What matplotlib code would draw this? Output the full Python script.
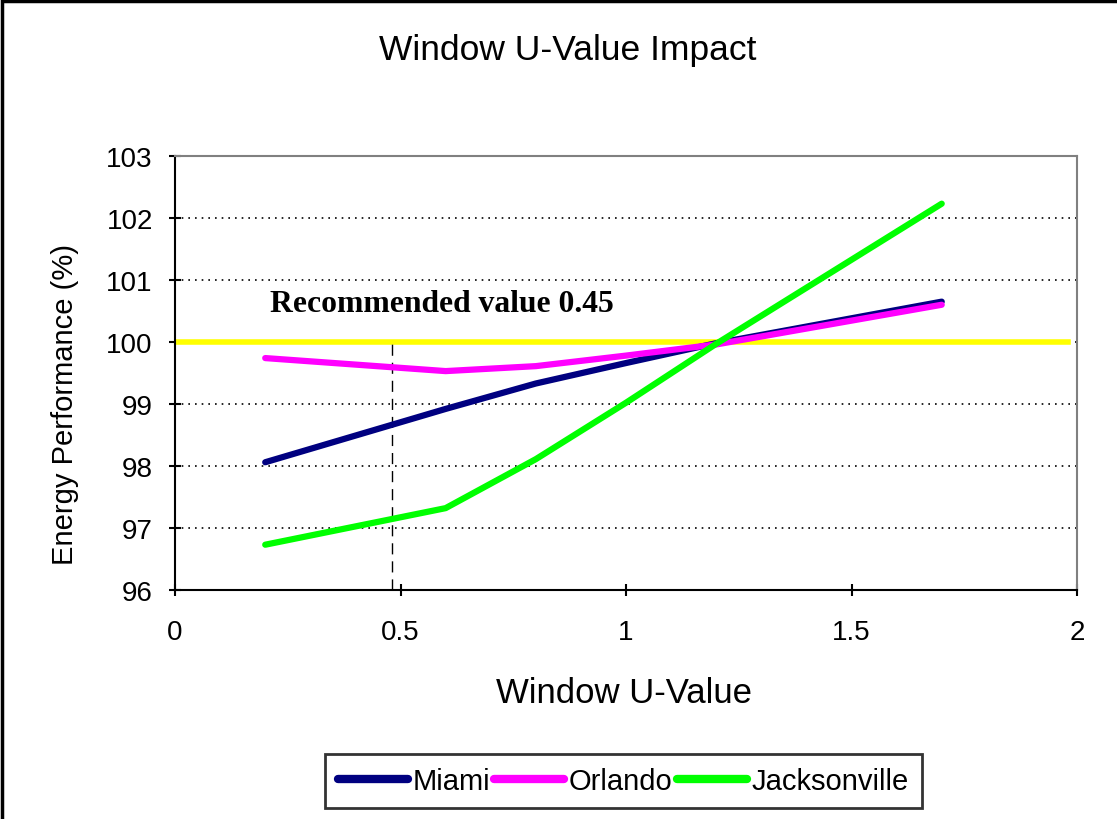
import matplotlib.pyplot as plt
from matplotlib.patches import Rectangle

u_values = [0.2, 0.6, 0.8, 1.0, 1.2, 1.7]
miami = [98.06, 98.92, 99.33, 99.66, 99.98, 100.65]
orlando = [99.74, 99.53, 99.61, 99.78, 99.96, 100.6]
jacksonville = [96.73, 97.32, 98.11, 99.02, 99.97, 102.23]

recommended_u = 0.48
target = 100

plt.rcParams["font.family"] = ["Liberation Sans", "DejaVu Sans"]

fig = plt.figure(figsize=(11.17, 8.2), dpi=100)
ax = fig.add_axes([0.1567, 0.2793, 0.8075, 0.5293])

# outer chart frame
fig.patches.append(Rectangle((0.002, -0.01), 1.05, 1.0075, transform=fig.transFigure,
                             fill=False, edgecolor="black", linewidth=2.5))

ax.plot(u_values, miami, color="#000080", lw=4.5, solid_capstyle="round", label="Miami", zorder=3)
ax.plot(u_values, orlando, color="#ff00ff", lw=4.5, solid_capstyle="round", label="Orlando", zorder=3)
ax.plot(u_values, jacksonville, color="#00ff00", lw=4.5, solid_capstyle="round", label="Jacksonville", zorder=3)

ax.plot([0, 1.98], [target, target], color="#ffff00", lw=4, zorder=2)
ax.plot([recommended_u, recommended_u], [96, target], color="black", lw=1, ls=(0, (8, 5)), zorder=2)
ax.text(0.21, 100.62, "Recommended value 0.45", family="Liberation Serif", fontweight="bold",
        fontsize=22.8, ha="left", va="center")

ax.set_xlim(0, 2)
ax.set_ylim(96, 103)
ax.set_xticks([0, 0.5, 1, 1.5, 2])
ax.set_xticklabels(["0", "0.5", "1", "1.5", "2"])
ax.set_yticks(range(96, 104))
ax.yaxis.grid(True, color="black", ls=(0, (1, 3)), lw=1.2)
for side in ["top", "right"]:
    ax.spines[side].set_color("#808080")
    ax.spines[side].set_linewidth(1.5)
for side in ["left", "bottom"]:
    ax.spines[side].set_color("black")
    ax.spines[side].set_linewidth(1.5)
ax.tick_params(labelsize=20, colors="black", direction="inout", length=8, width=1.5)
ax.tick_params(axis="x", pad=17)
ax.tick_params(axis="y", pad=12)

ax.set_xlabel("Window U-Value", fontsize=25)
ax.xaxis.set_label_coords(0.498, -0.198)
ax.set_ylabel("Energy Performance (%)", fontsize=21)
ax.yaxis.set_label_coords(-0.106, 0.43)
fig.text(0.508, 0.939, "Window U-Value Impact", fontsize=25.5, ha="center", va="center")

leg = ax.legend(loc="center", bbox_to_anchor=(0.497, -0.44), ncol=3, fontsize=21,
                frameon=True, fancybox=False, edgecolor="black", handlelength=2.4,
                handletextpad=0.15, columnspacing=0.15, borderpad=0.45)
leg.get_frame().set_linewidth(2)
for line in leg.get_lines():
    line.set_linewidth(6)

fig.savefig("out.png", dpi=100)
